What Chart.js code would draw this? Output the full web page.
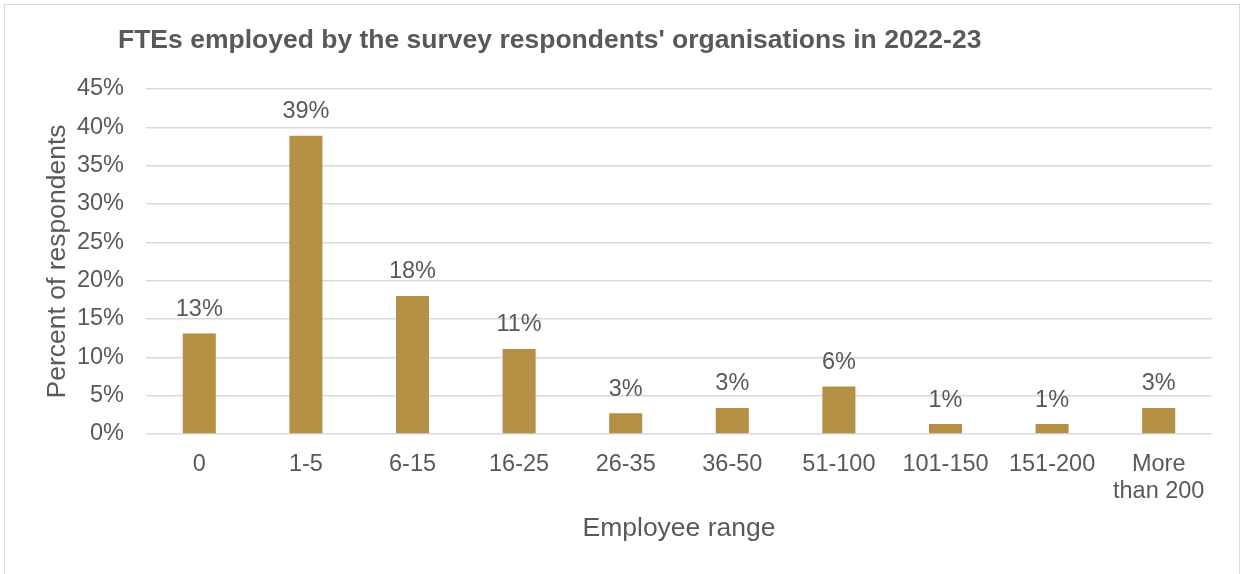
<!DOCTYPE html>
<html>
<head>
<meta charset="utf-8">
<script src="https://cdn.jsdelivr.net/npm/chart.js@4/dist/chart.umd.min.js"></script>
<style>
  html, body { margin: 0; padding: 0; background: #fff; }
  #wrap { position: relative; width: 1245px; height: 574px; overflow: hidden; }
  #frame { position: absolute; left: 4px; top: 4px; width: 1236px; height: 600px; border: 1.5px solid #d9d9d9; box-sizing: border-box; }
  canvas { position: absolute; left: 0; top: 0; }
</style>
</head>
<body>
<div id="wrap">
  <div id="frame"></div>
  <canvas id="fte-chart" width="1245" height="574"></canvas>
</div>
<script>
const chartTitle = "FTEs employed by the survey respondents' organisations in 2022-23";

const employeeRanges = ['0', '1-5', '6-15', '16-25', '26-35', '36-50', '51-100', '101-150', '151-200', ['More', 'than 200']];
const respondentPercents = [13.1, 38.9, 18.0, 11.1, 2.7, 3.4, 6.2, 1.3, 1.3, 3.4];

const yTicks = [0, 5, 10, 15, 20, 25, 30, 35, 40, 45];

const textGrey = '#595959';
const barGold = '#b39043';
const fontFamily = '"Liberation Sans", Arial, sans-serif';

// chart heading, drawn a little to the left of the plot area
const titlePlugin = {
    id: 'leftTitle',
    afterDraw(chart) {
        const ctx = chart.ctx;
        ctx.save();
        ctx.font = 'bold 26.5px ' + fontFamily;
        ctx.fillStyle = textGrey;
        ctx.textAlign = 'left';
        ctx.textBaseline = 'middle';
        ctx.fillText(chartTitle, chart.chartArea.left - 28, 41);
        ctx.restore();
    }
};

// percentage labels above each bar
const valueLabels = {
    id: 'valueLabels',
    afterDatasetsDraw(chart) {
        const ctx = chart.ctx;
        const meta = chart.getDatasetMeta(0);
        ctx.save();
        ctx.font = '23.5px ' + fontFamily;
        ctx.fillStyle = textGrey;
        ctx.textAlign = 'center';
        ctx.textBaseline = 'middle';
        meta.data.forEach((bar, i) => {
            const value = chart.data.datasets[0].data[i];
            ctx.fillText(Math.round(value) + '%', bar.x, bar.y - 24);
        });
        ctx.restore();
    }
};

const ctx = document.getElementById('fte-chart').getContext('2d');
new Chart(ctx, {
    type: 'bar',
    data: {
        labels: employeeRanges,
        datasets: [{
            label: 'Percent of respondents',
            data: respondentPercents,
            backgroundColor: barGold,
            borderWidth: 0,
            barPercentage: 0.31,
            categoryPercentage: 1
        }]
    },
    plugins: [titlePlugin, valueLabels],
    options: {
        responsive: false,
        animation: false,
        layout: {
            padding: { top: 89, left: 38, right: 33, bottom: 29 }
        },
        plugins: {
            legend: { display: false },
            tooltip: { enabled: false }
        },
        scales: {
            x: {
                afterFit(axis) {
                    axis.height = 111;
                },
                grid: { display: false },
                border: { display: false },
                ticks: {
                    color: textGrey,
                    font: { family: fontFamily, size: 23.5, lineHeight: 1.15 },
                    padding: 9,
                    maxRotation: 0,
                    autoSkip: false
                },
                title: {
                    display: true,
                    text: 'Employee range',
                    color: textGrey,
                    font: { family: fontFamily, size: 26.5 },
                    padding: { top: 6, bottom: 0 }
                }
            },
            y: {
                min: 0,
                max: 45,
                afterBuildTicks(axis) {
                    axis.ticks = yTicks.map(v => ({ value: v }));
                },
                afterFit(axis) {
                    axis.width = 108;
                },
                grid: { color: '#d9d9d9', lineWidth: 1.5, drawTicks: false },
                border: { display: false },
                ticks: {
                    color: textGrey,
                    font: { family: fontFamily, size: 23.5 },
                    padding: 22,
                    callback: v => v + '%'
                },
                title: {
                    display: true,
                    text: 'Percent of respondents',
                    color: textGrey,
                    font: { family: fontFamily, size: 26.5 },
                    padding: { top: 4, bottom: 4 }
                }
            }
        }
    }
});
</script>
</body>
</html>
